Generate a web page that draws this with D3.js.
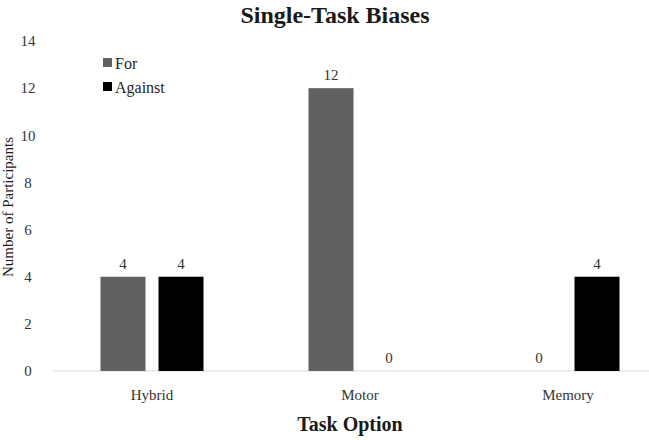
<!DOCTYPE html>
<html>
<head>
<meta charset="utf-8">
<script src="https://cdn.jsdelivr.net/npm/d3@7"></script>
<style>
  body { margin: 0; background: #fff; }
</style>
</head>
<body>
<div id="wrapper"></div>
<script>
const categories = ["Hybrid", "Motor", "Memory"]
const series = ["For", "Against"]
const forValues = [4, 12, 0]
const againstValues = [4, 0, 4]
const yTicks = [0, 2, 4, 6, 8, 10, 12, 14]
const colors = { For: "#616161", Against: "#000000" }

const fontFamily = "'Liberation Serif', 'Times New Roman', 'DejaVu Serif', serif"

const dimensions = {
  width: 649,
  height: 440,
  margin: { top: 41, right: -23, bottom: 69, left: 48 },
}
dimensions.boundedWidth = dimensions.width - dimensions.margin.left - dimensions.margin.right
dimensions.boundedHeight = dimensions.height - dimensions.margin.top - dimensions.margin.bottom

const data = categories.map((c, i) => ({ category: c, For: forValues[i], Against: againstValues[i] }))

const xScale = d3.scaleBand()
    .domain(categories)
    .range([0, dimensions.boundedWidth])

const groupWidth = 103
const x1 = d3.scaleBand()
    .domain(series)
    .range([(xScale.bandwidth() - groupWidth) / 2, (xScale.bandwidth() + groupWidth) / 2])
    .paddingInner(0.224)

const yScale = d3.scaleLinear()
    .domain([0, 14])
    .range([dimensions.boundedHeight, 0])

const wrapper = d3.select("#wrapper")
  .append("svg")
    .attr("width", dimensions.width)
    .attr("height", dimensions.height)
    .attr("font-family", fontFamily)

const bounds = wrapper.append("g")
    .attr("transform", `translate(${dimensions.margin.left},${dimensions.margin.top})`)

// y tick labels (no axis line)
bounds.selectAll(".ytick")
  .data(yTicks)
  .join("text")
    .attr("class", "ytick")
    .attr("x", -20)
    .attr("y", d => yScale(d))
    .attr("dy", "0.35em")
    .attr("text-anchor", "middle")
    .attr("font-size", 15)
    .attr("fill", "#333")
    .text(d => d)

// baseline
bounds.append("line")
    .attr("x1", 5)
    .attr("x2", dimensions.width)
    .attr("y1", yScale(0))
    .attr("y2", yScale(0))
    .attr("stroke", "#d9d9d9")
    .attr("stroke-width", 1)

// bars
const groups = bounds.selectAll(".group")
  .data(data)
  .join("g")
    .attr("transform", d => `translate(${xScale(d.category)},0)`)

groups.selectAll("rect")
  .data(d => series.map(s => ({ key: s, value: d[s] })))
  .join("rect")
    .attr("x", d => x1(d.key))
    .attr("width", x1.bandwidth())
    .attr("y", d => yScale(d.value))
    .attr("height", d => yScale(0) - yScale(d.value))
    .attr("fill", d => colors[d.key])

groups.selectAll(".val")
  .data(d => series.map(s => ({ key: s, value: d[s] })))
  .join("text")
    .attr("class", "val")
    .attr("x", d => x1(d.key) + x1.bandwidth() / 2)
    .attr("y", d => yScale(d.value) - 8)
    .attr("text-anchor", "middle")
    .attr("font-size", 15)
    .attr("fill", "#333")
    .text(d => d.value)

// category labels
bounds.selectAll(".xtick")
  .data(categories)
  .join("text")
    .attr("class", "xtick")
    .attr("x", d => xScale(d) + xScale.bandwidth() / 2)
    .attr("y", yScale(0) + 29)
    .attr("text-anchor", "middle")
    .attr("font-size", 15)
    .attr("fill", "#333")
    .text(d => d)

// titles
wrapper.append("text")
    .attr("x", 335)
    .attr("y", 23)
    .attr("text-anchor", "middle")
    .attr("font-size", 24)
    .attr("font-weight", "bold")
    .attr("fill", "#1a1a1a")
    .text("Single-Task Biases")

wrapper.append("text")
    .attr("x", 350)
    .attr("y", 431)
    .attr("text-anchor", "middle")
    .attr("font-size", 20)
    .attr("font-weight", "bold")
    .attr("fill", "#1a1a1a")
    .text("Task Option")

wrapper.append("text")
    .attr("transform", "translate(13,207) rotate(-90)")
    .attr("text-anchor", "middle")
    .attr("font-size", 15)
    .attr("fill", "#1a1a1a")
    .text("Number of Participants")

// legend
const legend = wrapper.append("g")
    .attr("transform", "translate(103,63)")
series.forEach((s, i) => {
  const g = legend.append("g").attr("transform", `translate(0,${i * 24})`)
  g.append("rect")
      .attr("x", 0)
      .attr("y", -5)
      .attr("width", 9)
      .attr("height", 9)
      .attr("fill", colors[s])
  g.append("text")
      .attr("x", 12)
      .attr("y", 0)
      .attr("dy", "0.35em")
      .attr("font-size", 16)
      .attr("fill", "#262626")
      .text(s)
})
</script>
</body>
</html>
